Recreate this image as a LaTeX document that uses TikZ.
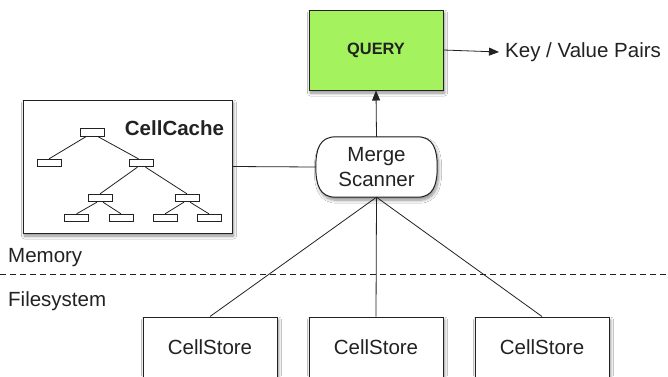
\documentclass[tikz,border=0pt]{standalone}
\usepackage{fontspec}
\setmainfont{Liberation Sans}
\usetikzlibrary{arrows.meta,shadows.blur,calc}
\definecolor{ink}{HTML}{222222}
\definecolor{querygreen}{HTML}{A3F25E}
\tikzset{
  shadowed/.style={blur shadow={shadow xshift=1.5pt,shadow yshift=-3pt,shadow opacity=45,shadow blur radius=3pt,shadow blur steps=8}},
  bigbox/.style={draw=ink,line width=1pt,fill=white,shadowed,inner sep=0pt},
  leaf/.style={draw=ink,line width=0.8pt,fill=white,minimum width=24pt,minimum height=7.5pt,inner sep=0pt},
  label/.style={text=ink,font=\fontsize{20.5}{25}\selectfont,inner sep=0pt},
  wire/.style={draw=ink,line width=0.8pt},
  arrowwire/.style={wire,-{Triangle[length=10pt,width=8pt]}},
}
\begin{document}
\begin{tikzpicture}[x=1pt,y=-1pt]
\clip (0,0) rectangle (668,376);
\fill[white] (0,0) rectangle (668,376);

% query box and its output
\node[bigbox,fill=querygreen,minimum width=134pt,minimum height=80pt,
      font=\fontsize{16.4}{20}\selectfont\bfseries,text=ink] (query) at (376,50) {QUERY};
\node[label,anchor=west] (kv) at (505,52) {Key / Value Pairs};
\draw[arrowwire] (query.east) -- ([xshift=-6pt]kv.west);

% merge scanner: a box with bulging rounded sides
\node[minimum width=121pt,minimum height=60pt,inner sep=0pt] (merge) at (376.5,167) {};
\draw[draw=ink,line width=1pt,fill=white,shadowed]
  ($(merge.north west)+(20,0)$) -- ($(merge.north east)+(-20,0)$)
  .. controls ($(merge.north east)+(-4,0)$) and ($(merge.north east)+(0,12)$) .. (merge.east)
  .. controls ($(merge.south east)+(0,-12)$) and ($(merge.south east)+(-4,0)$) .. ($(merge.south east)+(-20,0)$)
  -- ($(merge.south west)+(20,0)$)
  .. controls ($(merge.south west)+(4,0)$) and ($(merge.south west)+(0,-12)$) .. (merge.west)
  .. controls ($(merge.north west)+(0,12)$) and ($(merge.north west)+(4,0)$) .. ($(merge.north west)+(20,0)$)
  -- cycle;
\node[label,align=center] at (merge.center) {Merge\\Scanner};
\draw[arrowwire] (merge.north) -- (query.south);

% cell cache with its tree
\node[bigbox,minimum width=209pt,minimum height=133pt] (cache) at (127.5,166.5) {};
\node[label,font=\fontsize{20.5}{25}\selectfont\bfseries] at (174.5,128) {CellCache};
\node[leaf] (t0) at (92,132.5) {};
\node[leaf] (t1) at (49,163) {};
\node[leaf] (t2) at (141.5,163) {};
\node[leaf] (t3) at (100,198) {};
\node[leaf] (t4) at (187,198) {};
\node[leaf] (t5) at (76.5,218) {};
\node[leaf] (t6) at (121,218) {};
\node[leaf] (t7) at (165,218) {};
\node[leaf] (t8) at (209,218) {};
\draw[wire] ([xshift=-6pt]t0.south) -- (t1.north);
\draw[wire] ([xshift=6pt]t0.south) -- ([xshift=-3pt]t2.north);
\draw[wire] ([xshift=-4pt]t2.south) -- (t3.north);
\draw[wire] ([xshift=4pt]t2.south) -- (t4.north);
\draw[wire] ([xshift=-3pt]t3.south) -- (t5.north);
\draw[wire] ([xshift=3pt]t3.south) -- (t6.north);
\draw[wire] ([xshift=-3pt]t4.south) -- (t7.north);
\draw[wire] ([xshift=3pt]t4.south) -- (t8.north);
\draw[wire] (cache.east) -- (merge.west);

% memory / filesystem boundary
\coordinate (bleft) at (0,274);
\coordinate (bright) at (668,274);
\draw[draw=ink,line width=0.8pt,dash pattern=on 6pt off 4pt] (bleft) -- (bright);
\node[label,anchor=west] (mem) at (8,258) {Memory};
\node[label,anchor=west] (fs) at (8,301) {Filesystem};

% cell stores
\foreach \n/\x in {s1/210,s2/376,s3/542}{
  \node[bigbox,minimum width=134pt,minimum height=60pt,label,draw=ink] (\n) at (\x,347) {CellStore};
}
\draw[wire] (merge.south) -- (s1.north);
\draw[wire] (merge.south) -- (s2.north);
\draw[wire] (merge.south) -- (s3.north);
\end{tikzpicture}
\end{document}
